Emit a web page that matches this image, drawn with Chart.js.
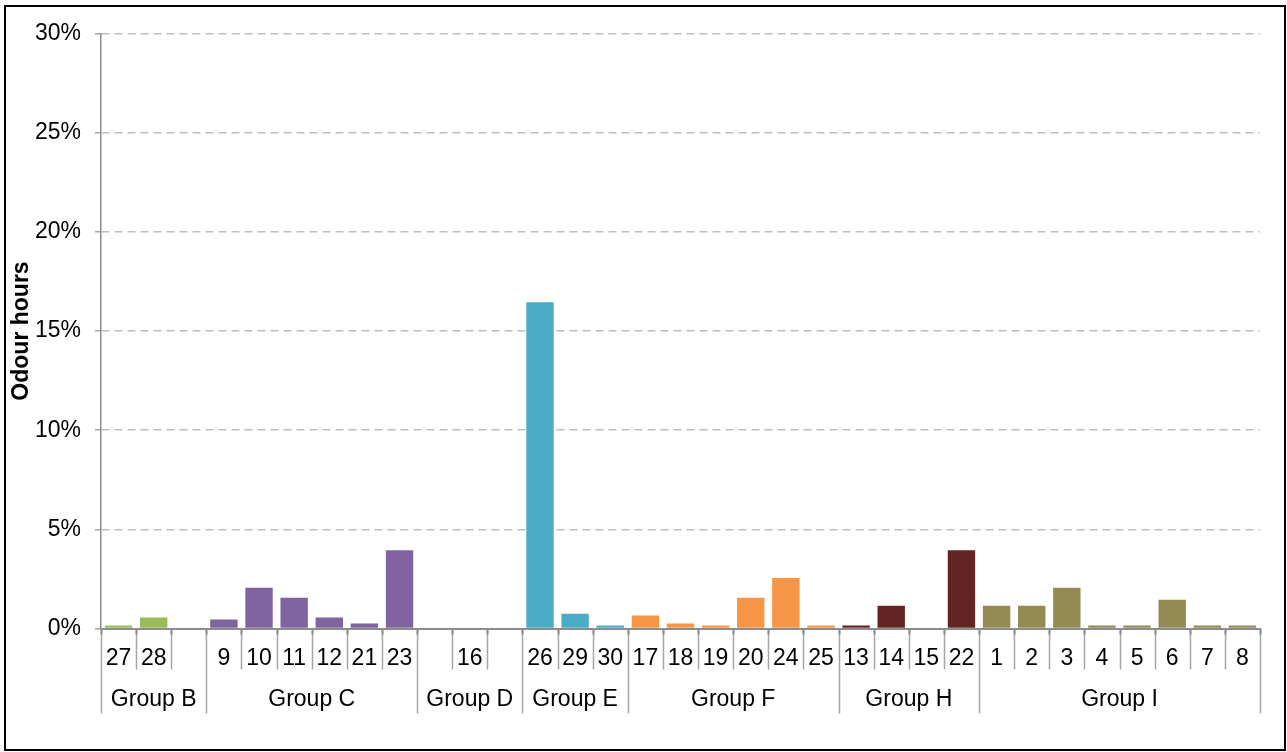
<!DOCTYPE html>
<html>
<head>
<meta charset="utf-8">
<script src="https://cdn.jsdelivr.net/npm/chart.js@4.4.1/dist/chart.umd.min.js"></script>
<style>
  html, body { margin: 0; padding: 0; background: #fff; overflow: hidden; }
  #wrap { position: relative; width: 1287px; height: 752px; }
</style>
</head>
<body>
<div id="wrap"><canvas id="chart"></canvas></div>
<script>
// Receptor groups and the receptor numbers in each (empty string = blank slot)
const groupNames = ['Group B', 'Group C', 'Group D', 'Group E', 'Group F', 'Group H', 'Group I'];
const receptorsB = ['27', '28', ''];
const receptorsC = ['9', '10', '11', '12', '21', '23'];
const receptorsD = ['', '16', ''];
const receptorsE = ['26', '29', '30'];
const receptorsF = ['17', '18', '19', '20', '24', '25'];
const receptorsH = ['13', '14', '15', '22'];
const receptorsI = ['1', '2', '3', '4', '5', '6', '7', '8'];

// Odour hours (% of the year) per receptor, same order as above
const odourB = [0.15, 0.55, null];
const odourC = [0.45, 2.05, 1.55, 0.55, 0.25, 3.95];
const odourD = [null, 0, null];
const odourE = [16.45, 0.75, 0.15];
const odourF = [0.65, 0.25, 0.15, 1.55, 2.55, 0.15];
const odourH = [0.15, 1.15, 0, 3.95];
const odourI = [1.15, 1.15, 2.05, 0.15, 0.15, 1.45, 0.15, 0.15];

// Value-axis tick labels (percent)
const yTickValues = [0, 5, 10, 15, 20, 25, 30];

const groupColors = ['#9BBB59', '#8064A2', '#C0504D', '#4BACC6', '#F79646', '#632523', '#948A54'];

const groupReceptors = [receptorsB, receptorsC, receptorsD, receptorsE, receptorsF, receptorsH, receptorsI];
const groupOdour = [odourB, odourC, odourD, odourE, odourF, odourH, odourI];

// Flatten groups into one category axis, remembering where each group starts
const labels = [];
const values = [];
const barColors = [];
const groupSpans = [];
groupReceptors.forEach((recs, g) => {
  const start = labels.length;
  recs.forEach((r, k) => {
    labels.push(r);
    values.push(groupOdour[g][k]);
    barColors.push(groupColors[g]);
  });
  groupSpans.push({ name: groupNames[g], start: start, end: labels.length });
});

const FONT = "'Liberation Sans', Arial, sans-serif";

// Two-level category axis: receptor numbers, then group names with separators
const multiLevelAxis = {
  id: 'multiLevelAxis',
  beforeDraw(chart) {
    const ctx = chart.ctx;
    ctx.save();
    ctx.strokeStyle = '#000';
    ctx.lineWidth = 2;
    ctx.strokeRect(5, 6, 1280, 744);
    ctx.restore();
  },
  afterDraw(chart) {
    const { ctx, chartArea } = chart;
    const x = chart.scales.x;
    const step = x.getPixelForValue(1) - x.getPixelForValue(0);
    const edge = i => x.getPixelForValue(i) - step / 2;
    const base = chartArea.bottom;
    const catBottom = base + 41;
    const groupBottom = base + 85;

    const groupStarts = new Set(groupSpans.map(s => s.start));
    groupStarts.add(labels.length);

    ctx.save();
    // separators
    for (let i = 0; i <= labels.length; i++) {
      const px = Math.round(edge(i)) + 0.5;
      const bottom = groupStarts.has(i) ? groupBottom : catBottom;
      ctx.strokeStyle = '#A6A6A6';
      ctx.lineWidth = 1.5;
      ctx.beginPath();
      ctx.moveTo(px, base);
      ctx.lineTo(px, bottom);
      ctx.stroke();
      ctx.strokeStyle = '#8C8C8C';
      ctx.lineWidth = 2;
      ctx.beginPath();
      ctx.moveTo(px, base);
      ctx.lineTo(px, base + 6);
      ctx.stroke();
    }
    // receptor labels
    ctx.fillStyle = '#000';
    ctx.textAlign = 'center';
    ctx.textBaseline = 'alphabetic';
    ctx.font = '23px ' + FONT;
    labels.forEach((lab, i) => {
      if (lab) ctx.fillText(lab, x.getPixelForValue(i), base + 36);
    });
    // group labels
    groupSpans.forEach(s => {
      const cx = (edge(s.start) + edge(s.end)) / 2;
      ctx.fillText(s.name, cx, base + 77.5);
    });
    ctx.restore();
  }
};

new Chart(document.getElementById('chart'), {
  type: 'bar',
  data: {
    labels: labels,
    datasets: [{
      data: values,
      backgroundColor: barColors,
      borderWidth: 0,
      barPercentage: 0.78,
      categoryPercentage: 1.0
    }]
  },
  options: {
    responsive: true,
    maintainAspectRatio: false,
    animation: false,
    events: [],
    layout: { padding: { top: 33.5, right: 27, bottom: 0, left: 0 } },
    plugins: {
      legend: { display: false },
      tooltip: { enabled: false },
      title: { display: false }
    },
    scales: {
      x: {
        type: 'category',
        ticks: { display: false },
        grid: { display: false },
        border: { display: true, color: '#8C8C8C', width: 2, z: 1 },
        afterFit(scale) { scale.height = 752 - 628.5; }
      },
      y: {
        min: 0,
        max: 30,
        afterBuildTicks(scale) { scale.ticks = yTickValues.map(v => ({ value: v })); },
        ticks: {
          callback: v => v + '%',
          color: '#000',
          padding: 14,
          font: { family: FONT, size: 23 }
        },
        grid: {
          color: '#BFBFBF',
          lineWidth: 1.5,
          tickLength: 6,
          tickColor: '#A6A6A6',
          tickWidth: 1.5
        },
        border: { display: true, color: '#8C8C8C', width: 1.5, dash: [8, 5] },
        title: {
          display: true,
          text: 'Odour hours',
          color: '#000',
          font: { family: FONT, size: 23, weight: 'bold' },
          padding: { top: 8, bottom: 0 }
        },
        afterFit(scale) { scale.width = 101; }
      }
    }
  },
  plugins: [multiLevelAxis]
});
</script>
</body>
</html>
